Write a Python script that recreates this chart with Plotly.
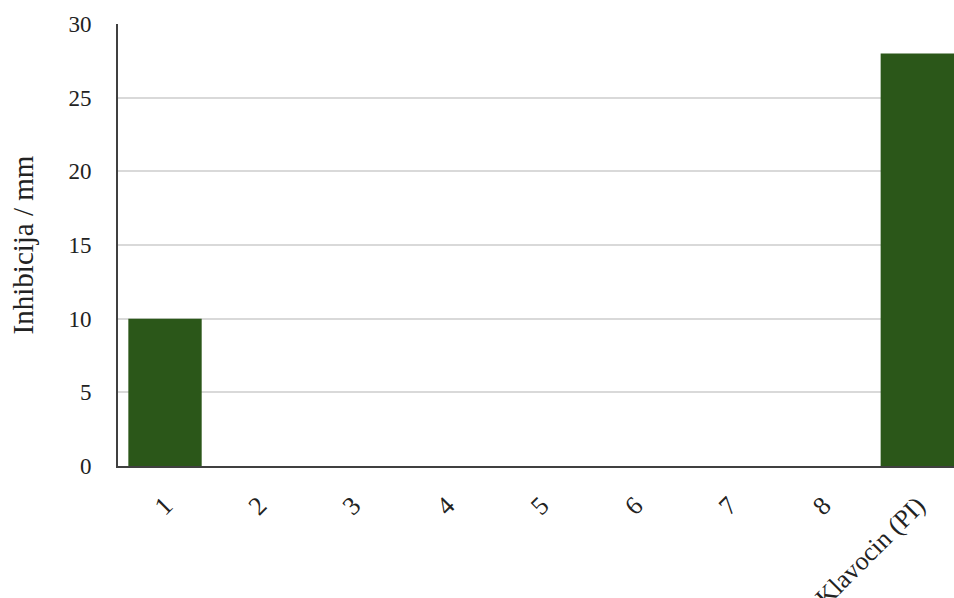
import plotly.graph_objects as go

categories = ["1", "2", "3", "4", "5", "6", "7", "8", "Klavocin (PI)"]
inhibition_mm = [10, 0, 0, 0, 0, 0, 0, 0, 28]
y_title = "Inhibicija / mm"

font_family = "Liberation Serif, Times New Roman, serif"

fig = go.Figure(go.Bar(
    x=categories,
    y=inhibition_mm,
    marker=dict(color="#2b5719", line=dict(width=0)),
    width=0.78,
))

fig.update_layout(
    width=954, height=598,
    margin=dict(l=118, r=0, t=24, b=132),
    paper_bgcolor="white", plot_bgcolor="white",
    font=dict(family=font_family, size=22, color="#222222"),
    showlegend=False,
)

fig.update_xaxes(
    type="category",
    range=[-0.5, 8.39],
    tickangle=-45,
    automargin=False,
    showline=True, linecolor="#404040", linewidth=2,
    ticks="", showgrid=False,
    ticklabelstandoff=12,
    tickfont=dict(size=26),
)
fig.update_yaxes(
    range=[0, 30],
    dtick=5,
    automargin=False,
    showline=True, linecolor="#404040", linewidth=2,
    showgrid=True, gridcolor="#d9d9d9", gridwidth=2,
    zeroline=False,
    ticks="", ticklabelstandoff=20,
    tickfont=dict(size=23),
    title=dict(text=y_title, font=dict(size=29), standoff=26),
)

post = ("document.body.style.margin='0';"
        "document.body.style.overflow='hidden';"
        "Plotly.Plots.resize(document.getElementById('{plot_id}'));")

fig.write_html("out.html",
               config={"responsive": False, "displayModeBar": False},
               post_script=post)
